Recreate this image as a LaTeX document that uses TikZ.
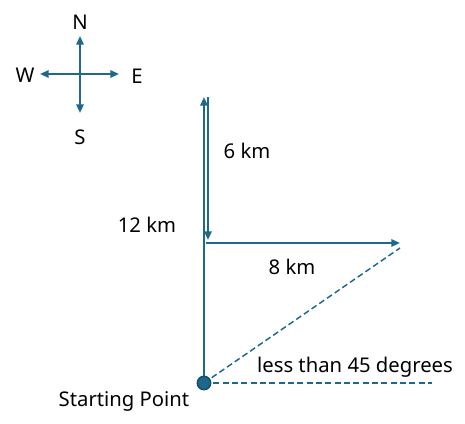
\documentclass[tikz,border=0pt]{standalone}
\usepackage{fontspec}
\setmainfont{Noto Sans}
\usetikzlibrary{positioning,arrows.meta}
\definecolor{pathblue}{RGB}{30,104,140}
\definecolor{dotblue}{RGB}{20,80,110}
\tikzset{
  route/.style = {draw=pathblue, line width=1.5pt,
                  -{Triangle[length=6.5pt,width=5.5pt]}},
  guide/.style = {draw=pathblue, line width=1.1pt, dash pattern=on 4.5pt off 2.5pt},
  lab/.style   = {font=\fontsize{15.2}{18}\selectfont, inner sep=0pt},
  dot/.style   = {circle, draw=dotblue, line width=1.2pt, fill=pathblue,
                  minimum size=10pt, inner sep=0pt}
}
\begin{document}
\begin{tikzpicture}[x=0.75pt, y=-0.75pt]
    \useasboundingbox (0,0) rectangle (465,424);
    % compass
    \coordinate (hub) at (80,74);
    \coordinate (cn) at (80,36);
    \coordinate (cs) at (80,113);
    \coordinate (cw) at (40,74);
    \coordinate (ce) at (119,74);
    \draw[route, {Triangle[length=6.5pt,width=5.5pt]}-{Triangle[length=6.5pt,width=5.5pt]}] (cn) -- (cs);
    \draw[route, {Triangle[length=6.5pt,width=5.5pt]}-{Triangle[length=6.5pt,width=5.5pt]}] (cw) -- (ce);
    \node[lab] (N) at (80,22) {N};
    \node[lab] (S) at (80,137) {S};
    \node[lab] (W) at (25,75) {W};
    \node[lab] (E) at (137,76) {E};
    % route
    \coordinate (origin) at (204,383);
    \coordinate (north) at (204,97);
    \coordinate (backtop) at (208,97);
    \coordinate (back) at (208,240);
    \coordinate (turn) at (206,243);
    \coordinate (finish) at (400,243);
    \coordinate (finishd) at (400,248);
    \coordinate (eastref) at (432,383);
    \draw[guide] (origin) -- (finishd);
    \draw[guide] (origin) -- (eastref);
    \draw[route] (origin) -- (north);
    \draw[route] (backtop) -- (back);
    \draw[route] (turn) -- (finish);
    \node[dot] (start) at (origin) {};
    % labels
    \node[lab] (six) at (247,151) {6 km};
    \node[lab] (twelve) at (147,225) {12 km};
    \node[lab] (eight) at (292,267) {8 km};
    \node[lab] (angle) at (355,367) {less than 45 degrees};
    \node[lab] (startlab) at (124,401) {Starting Point};
\end{tikzpicture}
\end{document}
